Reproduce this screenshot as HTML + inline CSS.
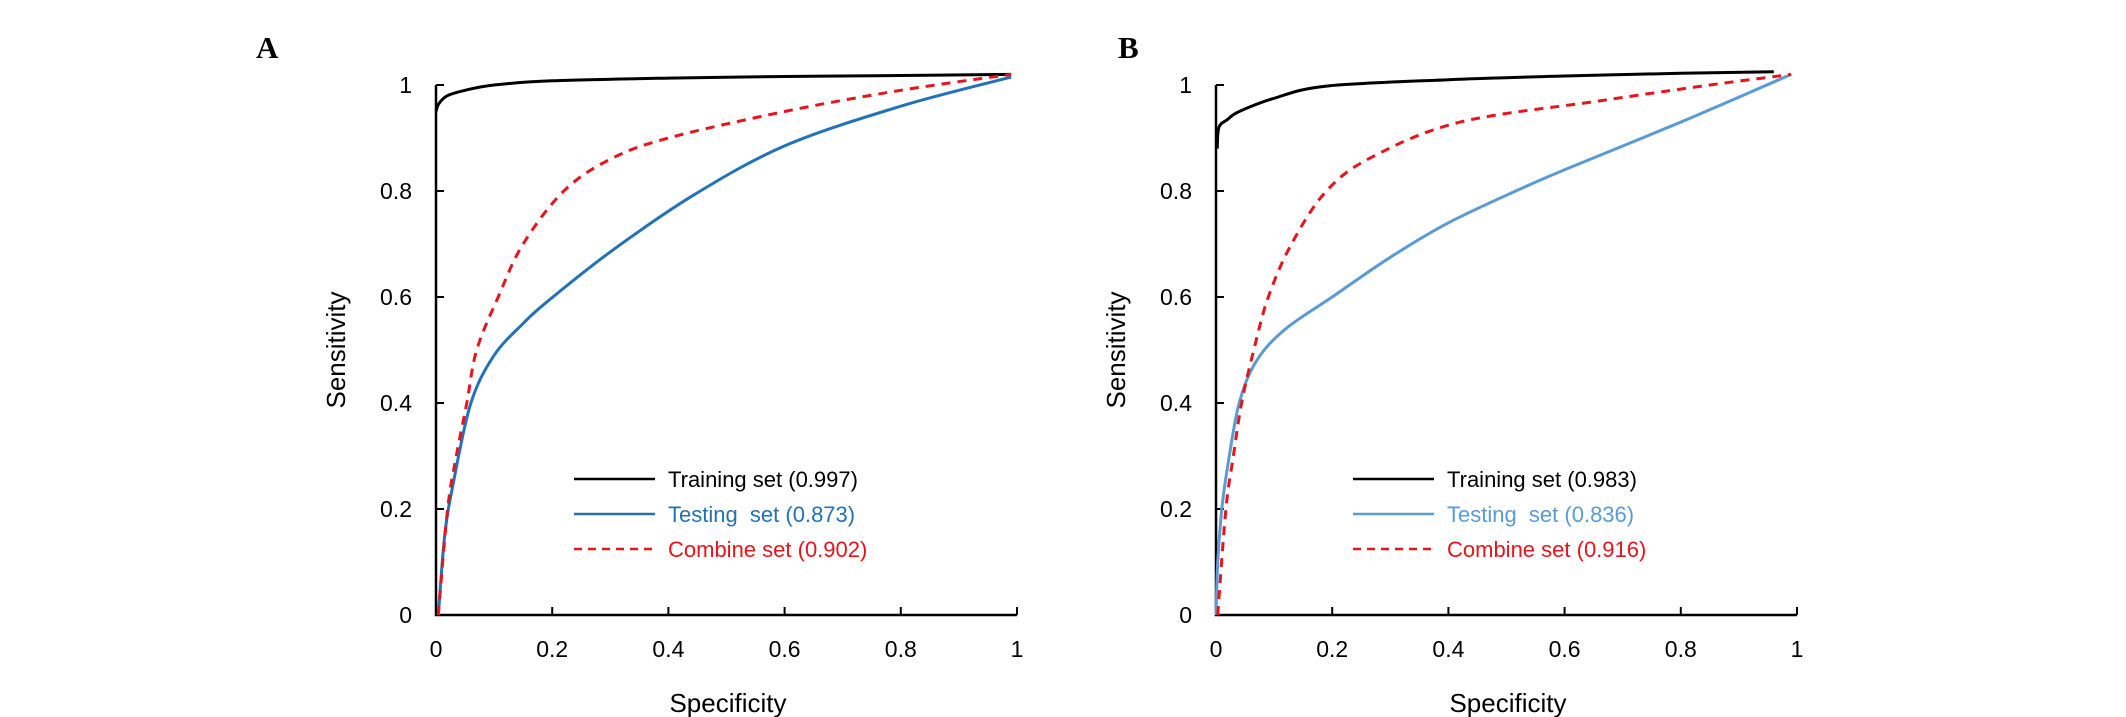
<!DOCTYPE html>
<html><head><meta charset="utf-8"><style>
html,body{margin:0;padding:0;background:#fff;}
svg{display:block;font-family:"Liberation Sans",Arial,sans-serif;}
text{white-space:pre;}
</style></head><body>
<svg id="chart" width="2126" height="717" viewBox="0 0 2126 717" xmlns="http://www.w3.org/2000/svg" xml:space="preserve"></svg>
<script>
const ticks = [0, 0.2, 0.4, 0.6, 0.8, 1];
const tickLabels = ["0", "0.2", "0.4", "0.6", "0.8", "1"];
const panelLabels = ["A", "B"];
const seriesNames = ["Training set", "Testing  set", "Combine set"];
const aucA = ["(0.997)", "(0.873)", "(0.902)"];
const aucB = ["(0.983)", "(0.836)", "(0.916)"];
const trainA_x = [0, 0.005, 0.02, 0.05, 0.1, 0.2, 0.4, 0.6, 0.8, 0.99];
const trainA_y = [0.95, 0.965, 0.98, 0.99, 1.0, 1.008, 1.013, 1.016, 1.018, 1.02];
const testA_x = [0.004, 0.015, 0.03, 0.06, 0.1, 0.15, 0.19, 0.3, 0.44, 0.6, 0.8, 0.99];
const testA_y = [0, 0.15, 0.25, 0.4, 0.49, 0.55, 0.59, 0.685, 0.79, 0.885, 0.96, 1.015];
const combA_x = [0.004, 0.02, 0.035, 0.053, 0.07, 0.107, 0.15, 0.22, 0.3, 0.4, 0.6, 0.8, 0.99];
const combA_y = [0, 0.2, 0.3, 0.4, 0.5, 0.6, 0.7, 0.8, 0.86, 0.9, 0.95, 0.99, 1.02];
const trainB_x = [0.002, 0.005, 0.02, 0.04, 0.1, 0.19, 0.4, 0.6, 0.8, 0.96];
const trainB_y = [0.88, 0.92, 0.935, 0.95, 0.975, 0.998, 1.01, 1.017, 1.022, 1.025];
const testB_x = [0, 0.003, 0.01, 0.02, 0.04, 0.07, 0.12, 0.2, 0.3, 0.4, 0.516, 0.6, 0.8, 0.99];
const testB_y = [0, 0.1, 0.2, 0.28, 0.4, 0.48, 0.54, 0.6, 0.675, 0.74, 0.8, 0.84, 0.93, 1.02];
const combB_x = [0.003, 0.017, 0.03, 0.044, 0.065, 0.09, 0.13, 0.19, 0.27, 0.42, 0.66, 0.85, 0.99];
const combB_y = [0, 0.2, 0.3, 0.4, 0.5, 0.6, 0.7, 0.8, 0.865, 0.93, 0.97, 1.0, 1.02];

const NS = "http://www.w3.org/2000/svg";
const svg = document.getElementById("chart");
function mk(tag, attrs, parent, text) {
  const e = document.createElementNS(NS, tag);
  for (const k in attrs) e.setAttribute(k, attrs[k]);
  if (text !== undefined) e.textContent = text;
  (parent || svg).appendChild(e);
  return e;
}
function smooth(pts) {
  let d = "M" + pts[0][0].toFixed(1) + "," + pts[0][1].toFixed(1);
  for (let i = 0; i < pts.length - 1; i++) {
    const p0 = pts[i - 1] || pts[i], p1 = pts[i], p2 = pts[i + 1], p3 = pts[i + 2] || p2;
    const c1x = p1[0] + (p2[0] - p0[0]) / 6, c1y = p1[1] + (p2[1] - p0[1]) / 6;
    const c2x = p2[0] - (p3[0] - p1[0]) / 6, c2y = p2[1] - (p3[1] - p1[1]) / 6;
    d += `C${c1x.toFixed(1)},${c1y.toFixed(1)} ${c2x.toFixed(1)},${c2y.toFixed(1)} ${p2[0].toFixed(1)},${p2[1].toFixed(1)}`;
  }
  return d;
}
const Y0 = 615, Y1 = 85;
function drawPanel(idx, x0, labelX, legX, series, auc, blue) {
  const x1 = x0 + 581;
  const sx = v => x0 + v * (x1 - x0);
  const sy = v => Y0 + v * (Y1 - Y0);
  const g = mk("g", {});
  
  
  const pl = mk("text", {x: labelX, y: 58, "font-family": "Liberation Serif,serif", "font-weight": "bold", "font-size": 31}, g, panelLabels[idx]);
  
  
  const ax = mk("path", {d: `M${x0},${sy(1)}V${Y0}H${x1}`, stroke: "#000", "stroke-width": 2.5, fill: "none"}, g);
  
  
  ticks.forEach((t, i) => {
    const ty = mk("line", {x1: x0, x2: x0 + 8, y1: sy(t), y2: sy(t), stroke: "#000", "stroke-width": 2}, g);
    
    
    const yl = mk("text", {x: x0 - 24, y: sy(t) + 8, "text-anchor": "end", "font-size": 23}, g, tickLabels[i]);
    
    
    const tx = mk("line", {x1: sx(t), x2: sx(t), y1: Y0, y2: Y0 - 8, stroke: "#000", "stroke-width": 2}, g);
    
    
    const xl = mk("text", {x: sx(t), y: Y0 + 42, "text-anchor": "middle", "font-size": 23}, g, tickLabels[i]);
    
    
  });
  const xt = mk("text", {x: x0 + 292, y: 712, "text-anchor": "middle", "font-size": 26}, g, "Specificity");
  
  
  const yt = mk("text", {x: 0, y: 0, "text-anchor": "middle", "font-size": 26, transform: `translate(${x0 - 91},350) rotate(-90)`}, g, "Sensitivity");
  
  
  const styles = [
    {stroke: "#000", dash: null},
    {stroke: blue, dash: null},
    {stroke: "#e8141c", dash: "9,7"}
  ];
  const legY = [479, 514, 549];
  series.forEach((s, i) => {
    const pts = s[0].map((v, j) => [sx(v), sy(s[1][j])]);
    const p = mk("path", {d: smooth(pts), stroke: styles[i].stroke, "stroke-width": 3, fill: "none"}, g);
    if (styles[i].dash) p.setAttribute("stroke-dasharray", styles[i].dash);
    
    
    const ll = mk("line", {x1: legX, x2: legX + 81, y1: legY[i], y2: legY[i], stroke: styles[i].stroke, "stroke-width": 2.5}, g);
    if (styles[i].dash) ll.setAttribute("stroke-dasharray", "8,6");
    
    
    const lt = mk("text", {x: legX + 94, y: legY[i] + 8, "font-size": 22, fill: styles[i].stroke}, g, seriesNames[i] + " " + auc[i]);
    
    
  });
}
drawPanel(0, 436, 256, 574, [[trainA_x, trainA_y], [testA_x, testA_y], [combA_x, combA_y]], aucA, "#2372b8");
drawPanel(1, 1216, 1118, 1353, [[trainB_x, trainB_y], [testB_x, testB_y], [combB_x, combB_y]], aucB, "#5b9bd5");
</script>
</body></html>
